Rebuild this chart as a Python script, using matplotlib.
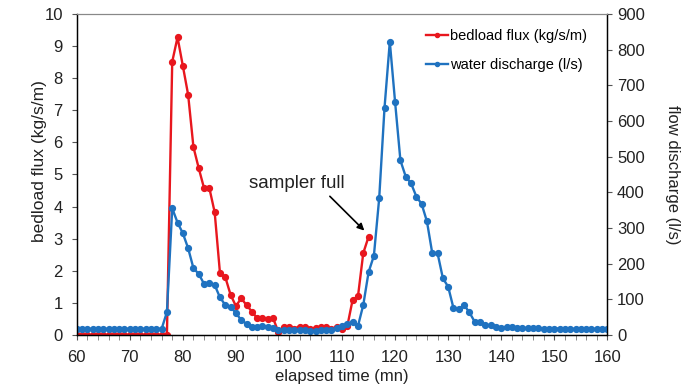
import matplotlib
matplotlib.use("Agg")
import matplotlib.pyplot as plt
import numpy as np

plt.rcParams['font.family'] = ['Liberation Sans', 'DejaVu Sans']

# elapsed time (mn)
time_bed = list(range(60, 116))
bedload = [0]*18 + [8.51, 9.27, 8.38, 7.48, 5.85, 5.19, 4.57, 4.57, 3.82, 1.92,
                    1.80, 1.25, 0.90, 1.14, 0.93, 0.73, 0.52, 0.52, 0.50, 0.52,
                    0.10, 0.26, 0.26, 0.20, 0.26, 0.26, 0.18, 0.22, 0.26, 0.26,
                    0.20, 0.24, 0.20, 0.28, 1.10, 1.20, 2.55, 3.06]

time_q = list(range(60, 161))
discharge = [17]*17 + [64, 355, 315, 285, 243, 187, 171, 143, 147, 140,
                       105, 84, 79, 61, 42, 31, 23, 23, 24, 23,
                       19, 14, 15, 14, 14, 13, 13, 12, 12, 13,
                       13, 14, 19, 25, 30, 37, 25, 84, 176, 222,
                       383, 636, 822, 652, 489, 444, 425, 388, 367, 318,
                       229, 229, 159, 135, 75, 72, 84, 63, 37, 37,
                       28, 27, 22, 20, 22, 21, 20, 20, 19, 19,
                       19, 18, 18, 18, 18, 18, 17, 17, 17, 17,
                       17, 17, 17, 17]

x_ticks = list(range(60, 161, 10))
left_ticks = list(range(0, 11))
right_ticks = list(range(0, 901, 100))

red = '#e8171e'
blue = '#1f72c0'
txt = '#222222'

fig = plt.figure(figsize=(6.91, 3.85), dpi=100)
ax = fig.add_axes([0.111, 0.130, 0.768, 0.834])
ax2 = ax.twinx()

l1, = ax.plot(time_bed, bedload, '-o', color=red, lw=1.7, ms=4.2, label='bedload flux (kg/s/m)')
l2, = ax2.plot(time_q, discharge, '-o', color=blue, lw=1.7, ms=4.2, label='water discharge (l/s)')

ax.set_xlim(60, 160)
ax.set_ylim(0, 10)
ax2.set_ylim(0, 900)
ax.set_xticks(x_ticks)
ax.set_xticks(list(range(60, 161, 2)), minor=True)
ax.set_yticks(left_ticks)
ax2.set_yticks(right_ticks)

for a in (ax, ax2):
    a.tick_params(axis='both', which='major', labelsize=12, length=3.5, width=0.8,
                  color='#555555', labelcolor=txt)
    a.tick_params(axis='x', which='minor', length=3.5, width=0.6, color='#777777')
    a.spines['top'].set_color('#888888')
    for s in ('left', 'right', 'bottom'):
        a.spines[s].set_color('black')
        a.spines[s].set_linewidth(0.9)
ax.tick_params(axis='y', pad=6.5)
ax.tick_params(axis='x', which='major', pad=7)

ax.set_xlabel('elapsed time (mn)', fontsize=12, labelpad=3, color=txt)
ax.set_ylabel('bedload flux (kg/s/m)', fontsize=12.5, color=txt)
ax.yaxis.set_label_coords(-0.056, 0.54)
ax2.set_ylabel('flow discharge (l/s)', fontsize=12, rotation=270, labelpad=25.5, color=txt)

ax.annotate('sampler full', xy=(114.2, 3.25), xytext=(101.4, 4.73),
            ha='center', va='center', fontsize=13.5, color=txt,
            arrowprops=dict(arrowstyle='-|>', color='black', lw=1.2,
                            relpos=(0.8, 0), shrinkA=2, shrinkB=0,
                            mutation_scale=10))

ax2.legend(handles=[l1, l2], loc='upper left', bbox_to_anchor=(0.645, 0.975),
           frameon=False, fontsize=10.5, handlelength=1.5, handletextpad=0.1,
           labelspacing=1.0, borderpad=0, markerscale=0.7)

fig.savefig('out.png', dpi=100)
